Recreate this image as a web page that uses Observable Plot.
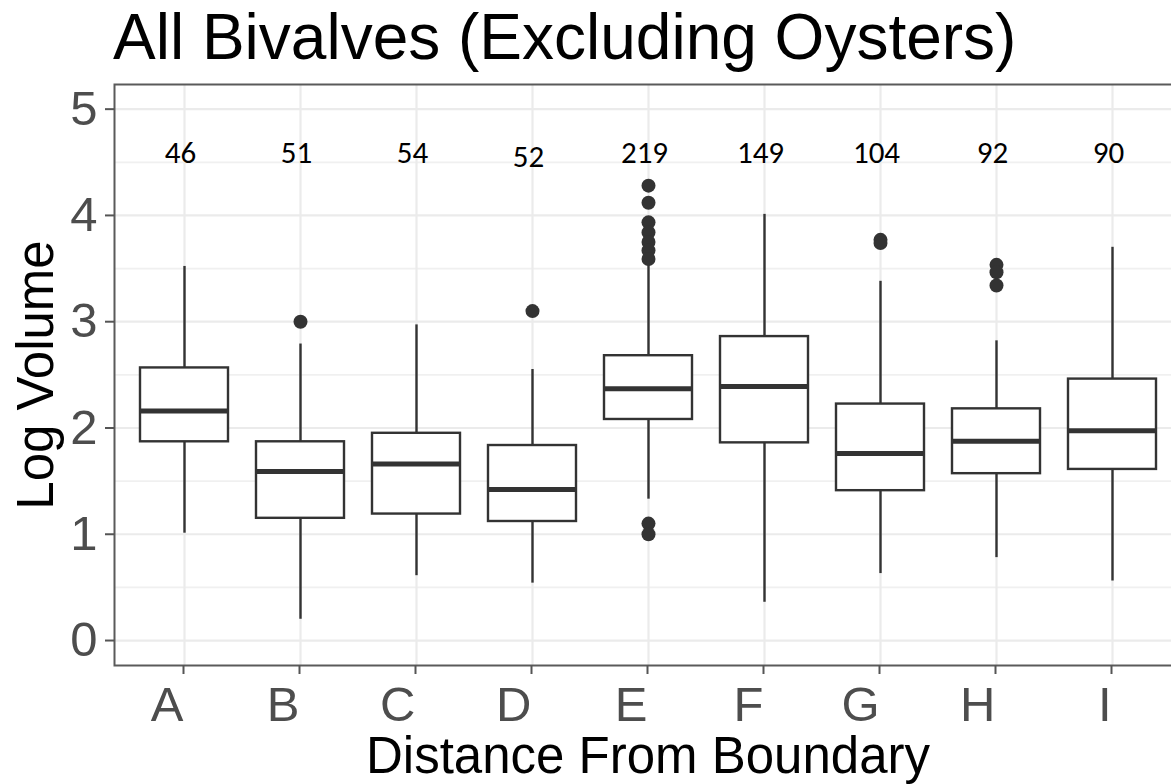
<!DOCTYPE html>
<html>
<head>
<meta charset="utf-8">
<script src="https://cdn.jsdelivr.net/npm/d3@7"></script>
<script src="https://cdn.jsdelivr.net/npm/@observablehq/plot@0.6"></script>
<style>
  html, body { margin: 0; padding: 0; background: white; }
  #wrap { width: 1171px; height: 784px; overflow: hidden; position: relative; }
  #title {
    height: 70px; box-sizing: border-box; padding-top: 2px; padding-left: 113px;
    font-family: 'Liberation Sans', Arial, Helvetica, sans-serif;
    font-size: 64px; line-height: 70px; color: #000; white-space: nowrap;
  }
</style>
</head>
<body>
<div id="wrap">
  <div id="title">All Bivalves (Excluding Oysters)</div>
  <div id="chart"></div>
</div>
<script>
// ---- Data ----
const categories = ["A", "B", "C", "D", "E", "F", "G", "H", "I"];
const counts = [46, 51, 54, 52, 219, 149, 104, 92, 90];
const countY = [4.59, 4.59, 4.59, 4.55, 4.59, 4.59, 4.59, 4.59, 4.59];
const whiskerLow = [1.01, 0.20, 0.61, 0.54, 1.33, 0.36, 0.63, 0.78, 0.56];
const q1 = [1.87, 1.15, 1.19, 1.12, 2.08, 1.86, 1.41, 1.57, 1.61];
const median = [2.16, 1.59, 1.66, 1.42, 2.37, 2.39, 1.76, 1.875, 1.975];
const q3 = [2.565, 1.87, 1.95, 1.835, 2.68, 2.86, 2.225, 2.18, 2.46];
const whiskerHigh = [3.52, 2.79, 2.97, 2.55, 3.55, 4.01, 3.38, 2.82, 3.70];
const outlierCategory = ["B", "D", "E", "E", "E", "E", "E", "E", "E", "E", "E", "G", "G", "H", "H", "H"];
const outlierValue = [3.00, 3.10, 4.28, 4.12, 3.935, 3.84, 3.75, 3.67, 3.59, 1.10, 1.00, 3.77, 3.74, 3.535, 3.465, 3.34];
const yTicks = [0, 1, 2, 3, 4, 5];
const yMinor = [0.5, 1.5, 2.5, 3.5, 4.5];
const xTitle = "Distance From Boundary";
const yTitle = "Log Volume";

// ---- Tables built from the arrays ----
const boxes = categories.map((c, i) => ({
  cat: c, lo: whiskerLow[i], q1: q1[i], med: median[i], q3: q3[i], hi: whiskerHigh[i],
  n: counts[i], ny: countY[i]
}));
const outliers = outlierCategory.map((c, i) => ({cat: c, v: outlierValue[i]}));

const ink = "#333333";
const grid = "#ebebeb";

const chart = Plot.plot({
  width: 1171,
  height: 714,
  marginTop: 14,
  marginBottom: 119,
  marginLeft: 114,
  marginRight: -10,
  style: {
    fontFamily: "'Liberation Sans', Arial, Helvetica, sans-serif",
    background: "white",
    overflow: "hidden"
  },
  x: {type: "band", domain: categories, paddingInner: 0.2417, paddingOuter: 0.2178, align: 0.5},
  y: {domain: [-0.235, 5.232]},
  marks: [
    // grid
    Plot.ruleY(yMinor, {stroke: "#f0f0f0", strokeWidth: 1.8}),
    Plot.ruleY(yTicks, {stroke: grid, strokeWidth: 2.2}),
    Plot.ruleX(categories, {x: d => d, stroke: grid, strokeWidth: 2.2}),
    // whiskers
    Plot.ruleX(boxes, {x: "cat", y1: "q3", y2: "hi", stroke: ink, strokeWidth: 2.4}),
    Plot.ruleX(boxes, {x: "cat", y1: "lo", y2: "q1", stroke: ink, strokeWidth: 2.4}),
    // boxes
    Plot.barY(boxes, {x: "cat", y1: "q1", y2: "q3", fill: "white", stroke: ink, strokeWidth: 2.4}),
    // medians
    Plot.tickY(boxes, {x: "cat", y: "med", stroke: ink, strokeWidth: 5}),
    // outliers
    Plot.dot(outliers, {x: "cat", y: "v", r: 7, fill: ink, stroke: "none"}),
    // counts
    Plot.text(boxes, {
      x: "cat", y: "ny", text: d => String(d.n), dx: -4,
      fontSize: 31, fill: "#000",
      fontFamily: "Calibri, Carlito, 'Open Sans', Lato, sans-serif"
    }),
    // panel border
    Plot.frame({stroke: "#5a5a5a", strokeWidth: 2}),
    // axes
    Plot.axisY(yTicks, {
      tickSize: 9, tickPadding: 8, fontSize: 49, fill: "#4d4d4d", stroke: "#555",
      strokeWidth: 2, label: null, tickFormat: d => String(d)
    }),
    Plot.axisX({
      tickSize: 9, tickPadding: 12, fontSize: 49, fill: "#4d4d4d", stroke: "#555",
      strokeWidth: 2, label: null, textAnchor: "end", dx: -1
    }),
    // axis titles
    Plot.text([xTitle], {
      text: d => d, frameAnchor: "bottom", dy: 107, lineAnchor: "bottom", textAnchor: "middle",
      fontSize: 51, fill: "#000"
    }),
    Plot.text([yTitle], {
      text: d => d, frameAnchor: "left", dx: -62, rotate: -90, lineAnchor: "bottom", textAnchor: "middle",
      fontSize: 51, fill: "#000"
    })
  ]
});
document.getElementById("chart").appendChild(chart);
</script>
</body>
</html>
